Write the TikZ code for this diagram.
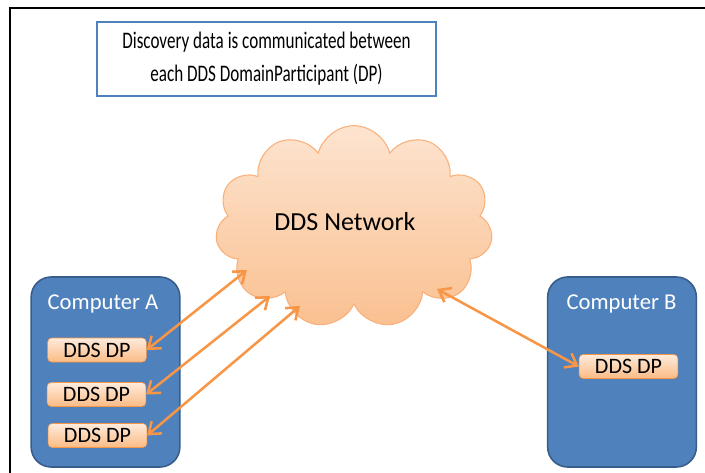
\documentclass[tikz,border=0pt]{standalone}
\usepackage{fontspec}
\setmainfont{Carlito}
\newfontfamily\titlefont[FakeStretch=0.72]{Carlito}
\usetikzlibrary{calc,positioning,shapes.symbols,arrows.meta}
\definecolor{dpblue}{HTML}{4F81BD}
\definecolor{dpborder}{HTML}{385D8A}
\definecolor{dporange}{HTML}{F79646}
\definecolor{cloudtop}{HTML}{FDE4D0}
\definecolor{cloudbot}{HTML}{FAC090}
\definecolor{cloudline}{HTML}{F9B07A}
\definecolor{dptop}{HTML}{FEEBDC}
\definecolor{dpbot}{HTML}{FBBB84}

\begin{document}
\begin{tikzpicture}[x=0.75pt,y=-0.75pt]

\tikzset{computer/.style={draw=dpborder,fill=dpblue,line width=1.2pt,rounded corners=15pt,minimum width=111.5pt,minimum height=142.5pt,inner sep=0pt},
dpnode/.style={draw=dporange,top color=dptop,bottom color=dpbot,rounded corners=3pt,minimum width=74pt,minimum height=18pt,inner sep=0pt,font=\fontsize{16.5}{18}\selectfont},
comptitle/.style={text=white,font=\fontsize{17}{20}\selectfont},
link/.style={draw=dporange,line width=1.9pt,{Straight Barb[length=8pt,width=12pt]}-{Straight Barb[length=8pt,width=12pt]}}}

\useasboundingbox (0,0) rectangle (705,473);

% Frame
\draw[line width=1.5pt] (10,473) -- (10,8) -- (705,8);

% Title box
\node (title) [draw=dpblue,line width=1.5pt,fill=white,minimum width=254pt,minimum height=55.5pt,align=center,inner sep=0pt,font=\titlefont\fontsize{17.8}{24.75}\selectfont] at (266.5,59) {Discovery data is communicated between\\each DDS DomainParticipant (DP)};

% Network cloud
\node (net) [cloud,cloud puffs=11,cloud ignores aspect,minimum width=208pt,minimum height=152pt,draw=cloudline,line width=0.8pt,top color=cloudtop,bottom color=cloudbot] at (354,227) {};
\node (netlabel) [font=\fontsize{19.5}{24}\selectfont] at (345,222) {DDS Network};

% Computer A
\node (compA) [computer] at (105.5,372) {};
\node (titleA) [comptitle] at (103,304) {Computer A};
\node (a1) [dpnode] at (97,350) {DDS DP};
\node (a2) [dpnode] at (96.5,394.5) {DDS DP};
\node (a3) [dpnode] at (97.5,435.5) {DDS DP};

% Computer B
\node (compB) [computer] at (622,372) {};
\node (titleB) [comptitle] at (621.5,304) {Computer B};
\node (b1) [dpnode] at (628.5,366.5) {DDS DP};

% Cloud ends
\coordinate (na1) at (247,270);
\coordinate (na2) at (270,296);
\coordinate (na3) at (300,306);
\coordinate (nb1) at (437,289);

% Links
\draw[link] (a1.east) -- (na1);
\draw[link] (a2.east) -- (na2);
\draw[link] (a3.east) -- (na3);
\draw[link] (b1.west) -- (nb1);

\end{tikzpicture}
\end{document}
